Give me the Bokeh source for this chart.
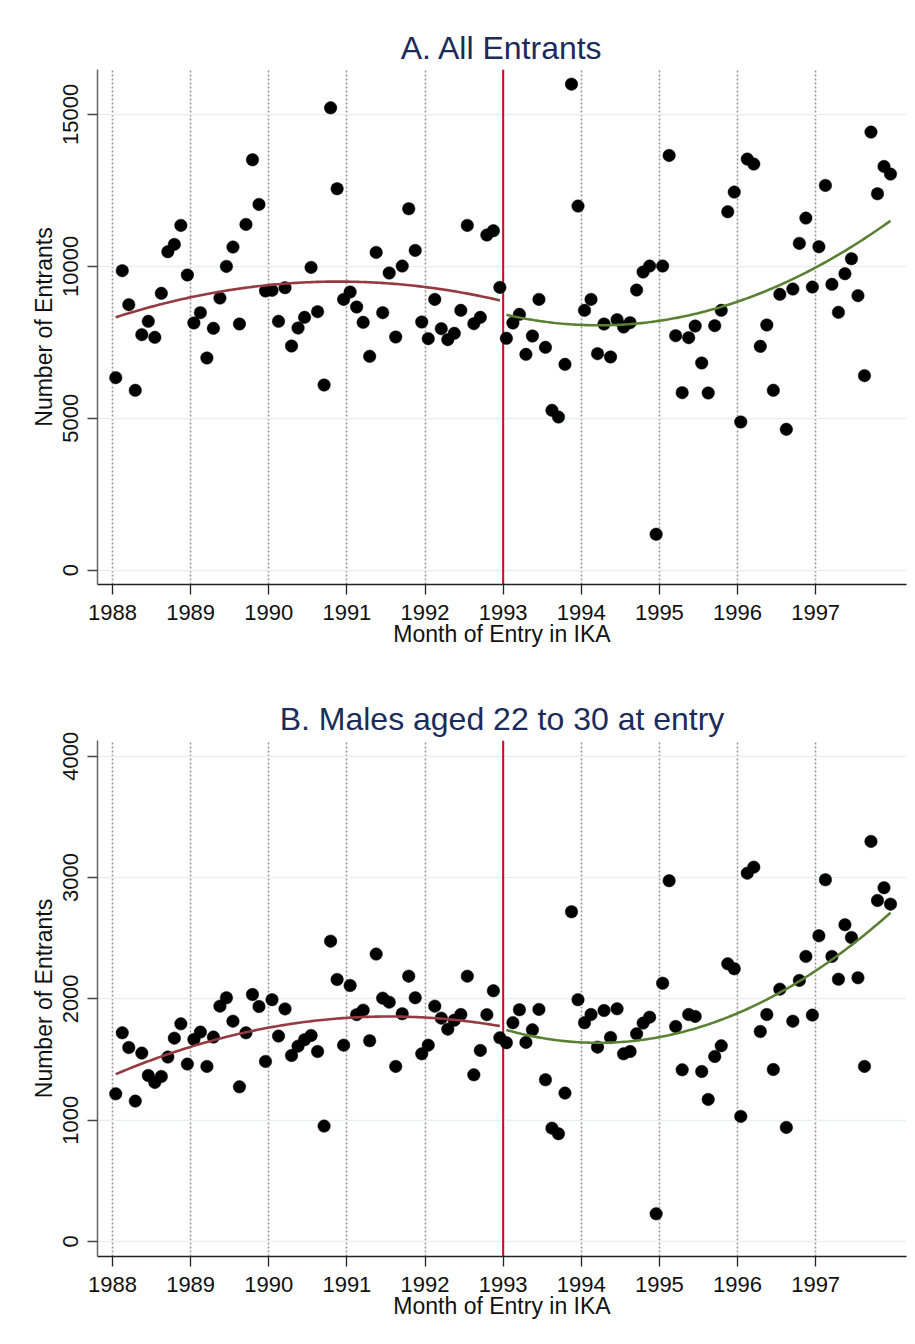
import numpy as np
from bokeh.plotting import figure
from bokeh.layouts import column
from bokeh.models import Range1d, FixedTicker, Span, Title, ColumnDataSource
from bokeh.embed import file_html
from bokeh.resources import INLINE

# ---------------- data ----------------
start_year = 1988
cutoff_year = 1993
year_ticks = [1988, 1989, 1990, 1991, 1992, 1993, 1994, 1995, 1996, 1997]

# monthly entrants, Jan 1988 .. Dec 1997
all_entrants = [
    6338, 9858, 8739, 5921, 7752, 8191, 7664, 9112, 10483, 10724, 11349, 9715,
    8136, 8476, 6985, 7961, 8958, 10000, 10636, 8103, 11382, 13509, 12039, 9189,
    9211, 8191, 9298, 7379, 7971, 8322, 9967, 8509, 6096, 15219, 12555, 8914,
    9156, 8662, 8158, 7039, 10461, 8476, 9781, 7675, 10011, 11897, 10526, 8169,
    7621, 8914, 7950, 7588, 7796, 8553, 11349, 8114, 8322, 11031, 11173, 9309,
    7632, 8136, 8421, 7105, 7708, 8914, 7336, 5263, 5040, 6776, 15998, 11985,
    8553, 8914, 7127, 8103, 7018, 8246, 8004, 8147, 9221, 9814, 10011, 1184,
    10011, 13651, 7719, 5844, 7654, 8037, 6820, 5833, 8048, 8553, 11798, 12445,
    4879, 13531, 13366, 7368, 8070, 5921, 9079, 4638, 9254, 10757, 11590, 9320,
    10647, 12664, 9408, 8487, 9759, 10252, 9035, 6404, 14419, 12390, 13289, 13037,
]

males_22_30 = [
    1217, 1720, 1599, 1157, 1553, 1368, 1311, 1360, 1520, 1676, 1794, 1462,
    1665, 1726, 1443, 1685, 1940, 2009, 1816, 1275, 1720, 2036, 1937, 1484,
    1993, 1693, 1917, 1533, 1610, 1663, 1698, 1566, 951, 2476, 2160, 1618,
    2110, 1870, 1907, 1655, 2369, 2006, 1973, 1443, 1877, 2187, 2009, 1547,
    1618, 1940, 1841, 1750, 1824, 1871, 2187, 1374, 1575, 1870, 2067, 1679,
    1638, 1803, 1910, 1641, 1745, 1913, 1333, 934, 888, 1223, 2718, 1993,
    1803, 1871, 1602, 1904, 1682, 1918, 1547, 1566, 1712, 1800, 1849, 228,
    2129, 2974, 1772, 1415, 1871, 1855, 1401, 1171, 1525, 1613, 2289, 2248,
    1031, 3036, 3086, 1731, 1871, 1418, 2080, 940, 1816, 2152, 2350, 1866,
    2520, 2982, 2350, 2162, 2611, 2506, 2174, 1443, 3298, 2811, 2916, 2781,
]

ticks_A = [0, 5000, 10000, 15000]
ticks_B = [0, 1000, 2000, 3000, 4000]

month_index = np.arange(len(all_entrants))
month_pos = start_year + (month_index + 0.5) / 12.0

FONT = "Liberation Sans"


def quad_fit(x, y, lo, hi):
    x = np.asarray(x, dtype=float)
    y = np.asarray(y, dtype=float)
    m = (x >= lo) & (x < hi)
    c = np.polyfit(x[m] - lo, y[m], 2)
    xs = np.linspace(x[m].min(), x[m].max(), 150)
    return xs, np.polyval(c, xs - lo)


def make_panel(values, title, yticks, yrange, top):
    p = figure(width=915, height=672, output_backend="svg", toolbar_location=None,
               x_range=Range1d(1987.808, 1998.163), y_range=Range1d(*yrange),
               min_border_left=97, min_border_right=9, min_border_top=top,
               min_border_bottom=88, outline_line_color=None,
               background_fill_color="white", border_fill_color="white")
    p.title = Title(text=title, align="center", text_font_size="32px",
                    text_font=FONT, text_font_style="normal",
                    text_color="#1b2b5a", standoff=7)
    # light outer frame of the graph region (CSS outline, drawn over content)
    p.styles = {"outline": "2px solid #d9e3e8", "outline-offset": "-5px"}

    # grids
    p.ygrid.ticker = FixedTicker(ticks=yticks)
    p.ygrid.grid_line_color = "#e7eff2"
    p.ygrid.grid_line_width = 1.5
    p.xgrid.ticker = FixedTicker(ticks=year_ticks)
    p.xgrid.grid_line_color = "#979797"
    p.xgrid.grid_line_dash = "2 2"
    p.xgrid.grid_line_width = 1.6

    # axes
    p.xaxis.ticker = FixedTicker(ticks=year_ticks)
    p.yaxis.ticker = FixedTicker(ticks=yticks)
    for ax in (p.xaxis[0], p.yaxis[0]):
        ax.major_tick_out = 10
        ax.major_tick_in = 0
        ax.minor_tick_line_color = None
        ax.major_label_text_font = FONT
        ax.major_label_text_font_size = "22px"
        ax.major_label_text_color = "#111111"
        ax.axis_label_text_font = FONT
        ax.axis_label_text_font_size = "23px"
        ax.axis_label_text_font_style = "normal"
        ax.axis_label_text_color = "#111111"
        ax.major_tick_line_width = 1.3
        ax.axis_line_width = 1.5
    p.xaxis.axis_line_color = "#222222"
    p.xaxis.major_tick_line_color = "#222222"
    p.yaxis.axis_line_color = "#666666"
    p.yaxis.major_tick_line_color = "#444444"
    p.xaxis.axis_label = "Month of Entry in IKA"
    p.yaxis.axis_label = "Number of Entrants"
    p.xaxis.major_label_standoff = 10
    p.xaxis.axis_label_standoff = -2
    p.yaxis.major_label_orientation = "vertical"
    p.yaxis.major_label_standoff = 9
    p.yaxis.axis_label_standoff = 4

    # cutoff line
    p.add_layout(Span(location=cutoff_year, dimension="height",
                      line_color="#c8102e", line_width=2, level="underlay"))

    src = ColumnDataSource(dict(x=month_pos, y=values))
    p.scatter("x", "y", source=src, size=12.5, marker="circle",
              fill_color="black", line_color="black", line_width=0.5)

    xs0, ys0 = quad_fit(month_pos, values, start_year, cutoff_year)
    xs1, ys1 = quad_fit(month_pos, values, cutoff_year, start_year + 10)
    p.line(xs0, ys0, line_color="#943a40", line_width=2.6)
    p.line(xs1, ys1, line_color="#5a8033", line_width=2.6)
    return p


pA = make_panel(all_entrants, "A. All Entrants", ticks_A, (-470, 16480), 69)
pB = make_panel(males_22_30, "B. Males aged 22 to 30 at entry", ticks_B, (-124, 4130), 68)

layout = column(pA, pB, spacing=0)
open("out.html", "w").write(file_html(layout, INLINE))
